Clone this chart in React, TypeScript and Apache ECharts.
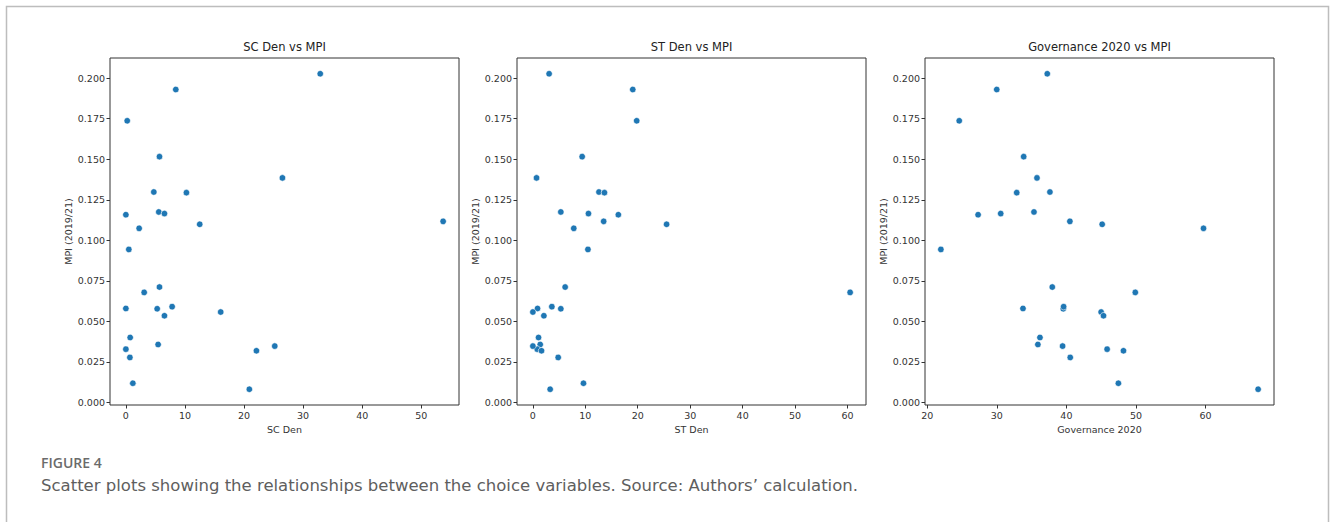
import React, { useEffect, useRef } from "react";
import * as echarts from "echarts";

const mpi = [0.2027, 0.193, 0.1737, 0.1516, 0.1385, 0.1298, 0.1294, 0.1158, 0.1175, 0.1165, 0.1117, 0.1099, 0.1074, 0.0944, 0.0712, 0.0679, 0.058, 0.0578, 0.0591, 0.0558, 0.0535, 0.0401, 0.0358, 0.0329, 0.0348, 0.0319, 0.0278, 0.0119, 0.0082];
const scDen = [32.9, 8.45, 0.23, 5.69, 26.5, 4.73, 10.25, 0.0, 5.57, 6.53, 53.7, 12.5, 2.25, 0.5, 5.69, 3.1, 0.0, 5.3, 7.83, 16.05, 6.53, 0.73, 5.46, 0.0, 25.2, 22.1, 0.68, 1.18, 20.9];
const stDen = [3.1, 19.05, 19.8, 9.4, 0.7, 12.6, 13.65, 16.3, 5.33, 10.6, 13.5, 25.5, 7.8, 10.5, 6.16, 60.5, 0.89, 5.33, 3.62, 0.0, 2.1, 1.08, 1.4, 0.83, 0.0, 1.65, 4.83, 9.65, 3.3];
const gov = [37.25, 29.99, 24.6, 33.86, 35.77, 37.63, 32.86, 27.31, 35.34, 30.56, 40.5, 45.14, 59.7, 21.96, 37.97, 49.9, 33.76, 39.55, 39.6, 44.99, 45.33, 36.2, 35.9, 45.85, 39.45, 48.2, 40.55, 47.47, 67.55];

const titles = ["SC Den vs MPI", "ST Den vs MPI", "Governance 2020 vs MPI"];
const xNames = ["SC Den", "ST Den", "Governance 2020"];
const yName = "MPI (2019/21)";
const xTicks = [
  [0, 10, 20, 30, 40, 50],
  [0, 10, 20, 30, 40, 50, 60],
  [20, 30, 40, 50, 60],
];
const yTicks = [0, 0.025, 0.05, 0.075, 0.1, 0.125, 0.15, 0.175, 0.2];
const caption1 = "FIGURE 4";
const caption2 = "Scatter plots showing the relationships between the choice variables. Source: Authors\u2019 calculation.";

const pad = (arr: number[]) => {
  const lo = Math.min(...arr);
  const hi = Math.max(...arr);
  const m = (hi - lo) * 0.05;
  return [lo - m, hi + m];
};

export default function App() {
  const ref = useRef<HTMLDivElement>(null);
  useEffect(() => {
    if (!ref.current) return;
    const chart = echarts.init(ref.current, undefined, { renderer: "svg" });
    const xs = [scDen, stDen, gov];
    const lefts = [110, 517, 925];
    const W = 349;
    const top = 58;
    const H = 347;
    const font = "DejaVu Sans";
    const txt = "#333";
    const yr = pad(mpi);
    const option: any = {
      animation: false,
      backgroundColor: "#fff",
      title: titles.map((t, i) => ({
        text: t,
        left: lefts[i] + W / 2,
        top: 41,
        padding: 0,
        textAlign: "center",
        textStyle: { fontFamily: font, fontSize: 11.5, fontWeight: "normal", color: "#222" },
      })),
      grid: lefts.map((l) => ({
        left: l,
        top,
        width: W,
        height: H,
        show: true,
        borderColor: "#333",
        borderWidth: 1,
        backgroundColor: "transparent",
      })),
      xAxis: xs.map((arr, i) => {
        const r = pad(arr);
        return {
          type: "value",
          gridIndex: i,
          min: r[0],
          max: r[1],
          name: xNames[i],
          nameLocation: "middle",
          nameGap: 19,
          nameTextStyle: { fontFamily: font, fontSize: 9.5, color: txt },
          axisLine: { show: false, onZero: false },
          splitLine: { show: false },
          axisTick: { show: true, length: 3.5, customValues: xTicks[i], lineStyle: { color: "#333" } },
          axisLabel: {
            customValues: xTicks[i],
            fontFamily: font,
            fontSize: 9.5,
            color: txt,
            margin: 5,
            formatter: (v: number) => String(Math.round(v)),
          },
        };
      }),
      yAxis: xs.map((_, i) => ({
        type: "value",
        gridIndex: i,
        min: yr[0],
        max: yr[1],
        name: yName,
        nameLocation: "middle",
        nameGap: 37,
        nameTextStyle: { fontFamily: font, fontSize: 9.5, color: txt },
        axisLine: { show: false, onZero: false },
        splitLine: { show: false },
        axisTick: { show: true, length: 3.5, customValues: yTicks, lineStyle: { color: "#333" } },
        axisLabel: {
          customValues: yTicks,
          fontFamily: font,
          fontSize: 9.5,
          color: txt,
          margin: 5,
          formatter: (v: number) => v.toFixed(3),
        },
      })),
      series: xs.map((arr, i) => ({
        type: "scatter",
        xAxisIndex: i,
        yAxisIndex: i,
        symbolSize: 6.5,
        itemStyle: { color: "#1f77b4", borderColor: "#fff", borderWidth: 0.6, opacity: 1 },
        data: arr.map((x, k) => [x, mpi[k]]),
      })),
      graphic: [
        {
          type: "rect",
          shape: { x: 6.5, y: 6.5, width: 1322, height: 600 },
          style: { fill: "none", stroke: "#bdbdbd", lineWidth: 1.5 },
          silent: true,
        },
        {
          type: "text",
          x: 41,
          y: 455,
          style: { text: caption1, fontFamily: "Open Sans", fontSize: 14, fontWeight: 600, fill: "#6b6b6b" },
        },
        {
          type: "text",
          x: 41,
          y: 477,
          style: { text: caption2, fontFamily: "DejaVu Sans", fontSize: 16.5, fill: "#5e5e5e" },
        },
      ],
    };
    chart.setOption(option);
    return () => chart.dispose();
  }, []);
  return <div ref={ref} style={{ position: "absolute", left: 0, top: 0, width: 1330, height: 522 }} />;
}
